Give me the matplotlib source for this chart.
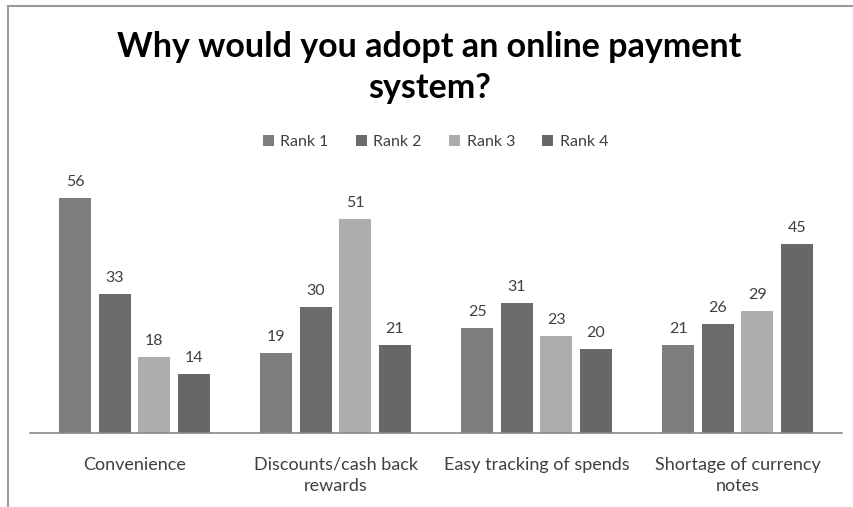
import matplotlib.pyplot as plt
import numpy as np
from matplotlib.lines import Line2D

plt.rcParams['font.family'] = ['Lato', 'DejaVu Sans']

categories = ['Convenience', 'Discounts/cash back\nrewards', 'Easy tracking of spends', 'Shortage of currency\nnotes']
series = ['Rank 1', 'Rank 2', 'Rank 3', 'Rank 4']
rank1 = [56, 19, 25, 21]
rank2 = [33, 30, 31, 26]
rank3 = [18, 51, 23, 29]
rank4 = [14, 21, 20, 45]
colors = ['#7d7d7d', '#6b6b6b', '#adadad', '#676767']

W, H = 854, 507
fig = plt.figure(figsize=(W / 100, H / 100), dpi=100)
# plot area in pixels: left 30, right 842, top 181, bottom 433
ax = fig.add_axes([30 / W, 1 - 433 / H, (842 - 30) / W, (433 - 181) / H])

x = np.arange(len(categories))
step = 0.197
width = 0.158
for i, (name, vals) in enumerate(zip(series, [rank1, rank2, rank3, rank4])):
    pos = x + (i - 1.5) * step
    bars = ax.bar(pos, vals, width, color=colors[i], label=name, zorder=2)
    for b, v in zip(bars, vals):
        ax.text(b.get_x() + b.get_width() / 2, v + 2.2, str(v), ha='center', va='bottom',
                fontsize=11.5, color='#404040')

ax.set_xlim(-0.52, 3.52)
ax.set_ylim(0, 60)
ax.set_yticks([])
ax.set_xticks(x)
ax.set_xticklabels(categories, fontsize=13, color='#404040', linespacing=1.45)
ax.tick_params(axis='x', length=0, pad=17)
for s in ['top', 'right', 'left']:
    ax.spines[s].set_visible(False)
ax.spines['bottom'].set_color('#888888')
ax.spines['bottom'].set_linewidth(1.2)

# baseline of the second title line sits at about y=98 px
fig.text(0.503, 1 - 98 / H, 'Why would you adopt an online payment\nsystem?', ha='center', va='baseline',
         fontsize=24.5, fontweight='bold', color='#000000', linespacing=1.35)

fig.legend(loc='center', bbox_to_anchor=(0.51, 1 - 142 / H), ncol=4, frameon=False,
           fontsize=11.5, handlelength=0.7, handleheight=0.7, handletextpad=0.4, columnspacing=1.7,
           labelcolor='#404040')

# outer chart frame
fig.add_artist(Line2D([8 / W, 8 / W], [0, 1 - 6 / H], color='#9a9a9a', lw=1.5))
fig.add_artist(Line2D([8 / W, 1], [1 - 6 / H, 1 - 6 / H], color='#9a9a9a', lw=1.5))

fig.savefig('out.png', dpi=100)
